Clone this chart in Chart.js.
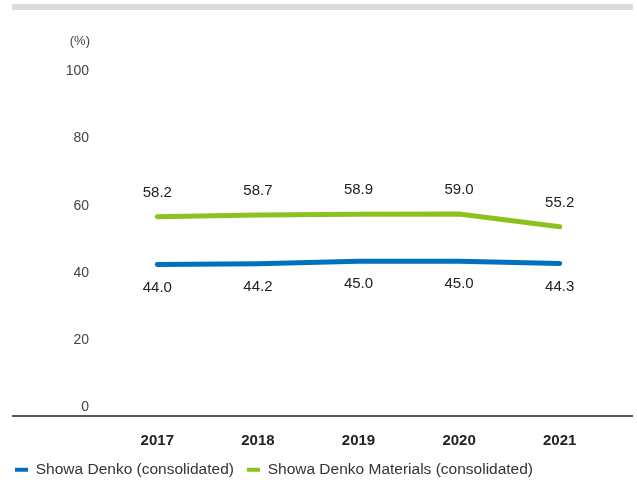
<!DOCTYPE html>
<html>
<head>
<meta charset="utf-8">
<script src="https://cdn.jsdelivr.net/npm/chart.js@4"></script>
<style>
  body { margin: 0; background: #fff; }
  #wrap { position: relative; width: 637px; height: 484px; }
  #topbar { position: absolute; left: 12px; top: 4px; width: 621px; height: 6px; background: #dcdcdc; }
</style>
</head>
<body>
<div id="wrap">
  <div id="topbar"></div>
  <canvas id="ratioChart" width="637" height="484"></canvas>
</div>
<script>
const years = ['2017', '2018', '2019', '2020', '2021'];
const showaDenko = [44.0, 44.2, 45.0, 45.0, 44.3];
const showaDenkoMaterials = [58.2, 58.7, 58.9, 59.0, 55.2];
const yTicks = [0, 20, 40, 60, 80, 100];
const seriesNames = ['Showa Denko (consolidated)', 'Showa Denko Materials (consolidated)'];

const fontName = '"Liberation Sans", Arial, Helvetica, sans-serif';

// value labels: green above the line, blue below
const valueLabels = {
    id: 'valueLabels',
    afterDatasetsDraw(chart) {
        let ctx = chart.ctx;
        ctx.save();
        ctx.font = '15px ' + fontName;
        ctx.fillStyle = '#222';
        ctx.textAlign = 'center';
        ctx.textBaseline = 'middle';
        chart.data.datasets.forEach(function(ds, i) {
            let meta = chart.getDatasetMeta(i);
            meta.data.forEach(function(pt, j) {
                let dy = i === 0 ? 23 : -24;
                ctx.fillText(ds.data[j].toFixed(1), pt.x, pt.y + dy);
            });
        });
        ctx.restore();
    }
};

// "(%)" unit and the long baseline
const extras = {
    id: 'extras',
    beforeDraw(chart) {
        let ctx = chart.ctx;
        let area = chart.chartArea;
        ctx.save();
        ctx.strokeStyle = '#222';
        ctx.lineWidth = 1.5;
        ctx.beginPath();
        ctx.moveTo(12, area.bottom);
        ctx.lineTo(633, area.bottom);
        ctx.stroke();
        ctx.font = '13px ' + fontName;
        ctx.fillStyle = '#444';
        ctx.textAlign = 'right';
        ctx.textBaseline = 'middle';
        ctx.fillText('(%)', 90, 41);
        ctx.restore();
    }
};

new Chart(document.getElementById('ratioChart'), {
    type: 'line',
    data: {
        labels: years,
        datasets: [{
            label: seriesNames[0],
            data: showaDenko,
            borderColor: '#0071c1',
            backgroundColor: '#0071c1',
            borderWidth: 5,
            borderCapStyle: 'round',
            pointRadius: 0,
            tension: 0
        }, {
            label: seriesNames[1],
            data: showaDenkoMaterials,
            borderColor: '#8cc21e',
            backgroundColor: '#8cc21e',
            borderWidth: 5,
            borderCapStyle: 'round',
            pointRadius: 0,
            tension: 0
        }]
    },
    options: {
        responsive: false,
        animation: false,
        layout: { padding: { top: 76, right: 27, left: 2, bottom: -2 } },
        plugins: {
            legend: {
                position: 'bottom',
                align: 'start',
                maxHeight: 37,
                labels: {
                    boxWidth: 13,
                    boxHeight: 4,
                    padding: 13,
                    color: '#333',
                    font: { family: fontName, size: 15.5 },
                    generateLabels: function(chart) {
                        let items = Chart.defaults.plugins.legend.labels.generateLabels(chart);
                        items.forEach(function(it) { it.lineWidth = 0; });
                        return items;
                    }
                }
            },
            tooltip: { enabled: false }
        },
        scales: {
            x: {
                offset: true,
                grid: { display: false, drawTicks: false },
                border: { display: false },
                afterFit: function(axis) { axis.height = 33; },
                ticks: {
                    padding: 16,
                    color: '#222',
                    font: { family: fontName, size: 15, weight: 'bold' }
                }
            },
            y: {
                min: -1,
                max: 100,
                grid: { display: false, drawTicks: false },
                border: { display: false },
                afterBuildTicks: function(axis) {
                    axis.ticks = yTicks.map(v => ({ value: v }));
                },
                afterFit: function(axis) { axis.width = 105; },
                ticks: {
                    padding: 18,
                    labelOffset: -5,
                    color: '#444',
                    font: { family: fontName, size: 14 }
                }
            }
        }
    },
    plugins: [valueLabels, extras]
});
</script>
</body>
</html>
